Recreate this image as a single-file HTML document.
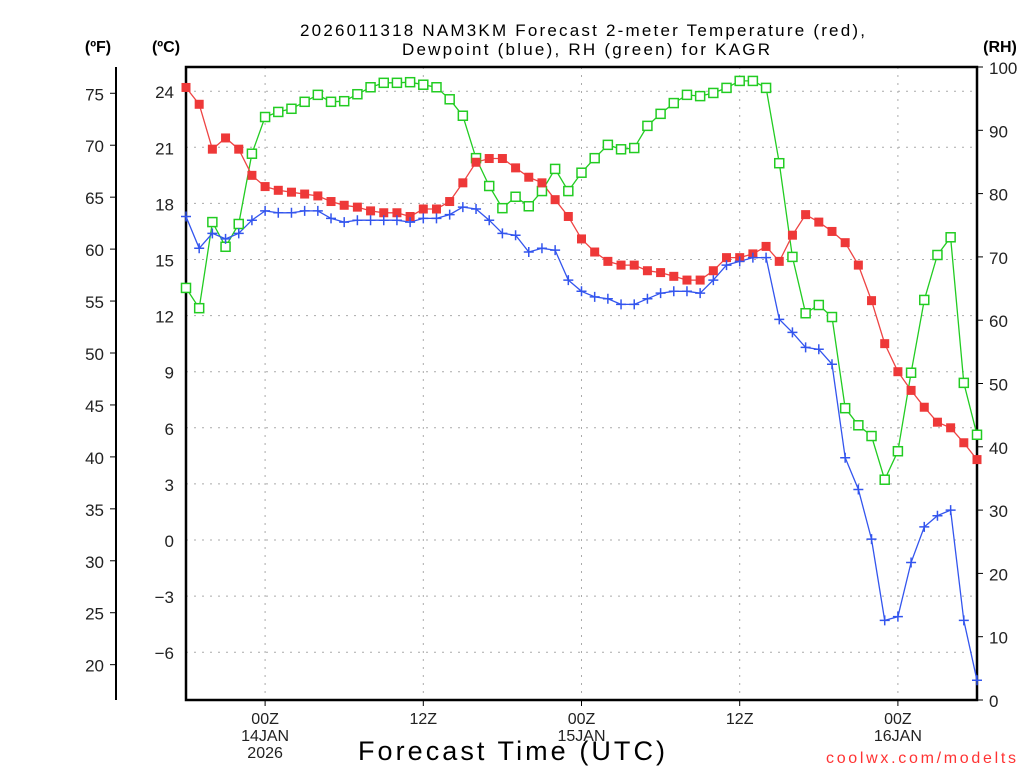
<!DOCTYPE html>
<html><head><meta charset="utf-8"><style>
body{margin:0;background:#fff;}
svg{display:block;font-family:"Liberation Sans",sans-serif;}
</style></head><body>
<svg id="chart" width="1024" height="768" viewBox="0 0 1024 768" xmlns="http://www.w3.org/2000/svg">
<rect width="1024" height="768" fill="#fff"/>
<text x="300" y="36" font-size="17" textLength="565" lengthAdjust="spacing">2026011318 NAM3KM Forecast 2-meter Temperature (red),</text>
<text x="402" y="55" font-size="17" textLength="368" lengthAdjust="spacing">Dewpoint (blue), RH (green) for KAGR</text>
<text x="98" y="52" text-anchor="middle" font-size="16" font-weight="bold">(ºF)</text>
<text x="166" y="52" text-anchor="middle" font-size="16" font-weight="bold">(ºC)</text>
<text x="1000" y="52" text-anchor="middle" font-size="16" font-weight="bold">(RH)</text>
<text x="358" y="760" font-size="27" textLength="307" lengthAdjust="spacing">Forecast Time (UTC)</text>
<text x="826" y="763" font-size="16" fill="#ff3333" textLength="190" lengthAdjust="spacing">coolwx.com/modelts</text>
<g id="grid"></g><g id="axes"></g><g id="series"></g>
</svg>
<script>
const hours = [];
for (let h = 0; h <= 60; h++) hours.push(h);
const tempC = [24.2,23.3,20.9,21.5,20.9,19.5,18.9,18.7,18.6,18.5,18.4,18.1,17.9,17.8,17.6,17.5,17.5,17.3,17.7,17.7,18.1,19.1,20.2,20.4,20.4,19.9,19.4,19.1,18.2,17.3,16.1,15.4,14.9,14.7,14.7,14.4,14.3,14.1,13.9,13.9,14.4,15.1,15.1,15.3,15.7,14.9,16.3,17.4,17.0,16.5,15.9,14.7,12.8,10.5,9.0,8.0,7.1,6.3,6.0,5.2,4.3];
const dewC = [17.3,15.6,16.4,16.1,16.4,17.1,17.6,17.5,17.5,17.6,17.6,17.2,17.0,17.1,17.1,17.1,17.1,17.0,17.2,17.2,17.4,17.8,17.7,17.1,16.4,16.3,15.4,15.6,15.5,13.9,13.3,13.0,12.9,12.6,12.6,12.9,13.2,13.3,13.3,13.2,13.9,14.7,14.9,15.1,15.1,11.8,11.1,10.3,10.2,9.4,4.4,2.7,0.05,-4.3,-4.1,-1.2,0.7,1.3,1.6,-4.3,-7.5];
const rh = [65.1,61.9,75.5,71.6,75.2,86.3,92.1,92.9,93.4,94.5,95.6,94.5,94.6,95.7,96.8,97.5,97.5,97.6,97.2,96.8,94.9,92.3,85.6,81.2,77.7,79.5,78.0,80.4,83.9,80.4,83.3,85.6,87.7,87.0,87.2,90.7,92.6,94.3,95.6,95.4,95.9,96.7,97.8,97.8,96.7,84.8,70.0,61.1,62.4,60.5,46.1,43.4,41.7,34.8,39.3,51.7,63.2,70.3,73.1,50.1,41.9];
const cTicks = [-6,-3,0,3,6,9,12,15,18,21,24];
const fTicks = [20,25,30,35,40,45,50,55,60,65,70,75];
const rhTicks = [0,10,20,30,40,50,60,70,80,90,100];
const timeTickHours = [6,18,30,42,54];
const timeTickLabels = [["00Z","14JAN","2026"],["12Z"],["00Z","15JAN"],["12Z"],["00Z","16JAN"]];

const L=186,R=977,T=67,B=700;
const xOf = h => L + (h/60)*(R-L);
const yC = c => 540 - c*18.7;
const yF = f => yC((f-32)*5/9);
const yRH = r => B - r*(B-T)/100;
const NS="http://www.w3.org/2000/svg";
function mk(tag, attrs, parent){const e=document.createElementNS(NS,tag);for(const k in attrs)e.setAttribute(k,attrs[k]);parent.appendChild(e);return e;}
const grid=document.getElementById('grid'), axes=document.getElementById('axes'), series=document.getElementById('series');

cTicks.forEach(c=>{
  const y=yC(c);
  const g=mk('line',{x1:L,x2:R,y1:y,y2:y,stroke:'#aaa','stroke-dasharray':'2,6'},grid);
  
  
  const t=mk('text',{x:174,y:y+7,'text-anchor':'end','font-size':'17',fill:'#222'},axes);
  t.textContent=(c<0?'\u2212'+(-c):c);
  
  
});
timeTickHours.forEach((h,i)=>{
  const x=xOf(h);
  const g=mk('line',{x1:x,x2:x,y1:T,y2:B,stroke:'#aaa','stroke-dasharray':'2,6'},grid);
  
  
  const tk=mk('line',{x1:x,x2:x,y1:B,y2:B+6,stroke:'#000'},axes);
  
  
  timeTickLabels[i].forEach((s,j)=>{
    const t=mk('text',{x:x,y:B+24+j*17,'text-anchor':'middle','font-size':'16',fill:'#222'},axes);
    t.textContent=s;
    
    
  });
});
const fl=mk('line',{x1:116,x2:116,y1:T,y2:B,stroke:'#000','stroke-width':2},axes);


fTicks.forEach(f=>{
  const y=yF(f);
  const tk=mk('line',{x1:110,x2:116,y1:y,y2:y,stroke:'#000'},axes);
  
  
  const t=mk('text',{x:104,y:y+7,'text-anchor':'end','font-size':'17',fill:'#222'},axes);
  t.textContent=f;
  
  
});
rhTicks.forEach(r=>{
  const y=yRH(r);
  const tk=mk('line',{x1:R,x2:R+6,y1:y,y2:y,stroke:'#000'},axes);
  
  
  const t=mk('text',{x:989,y:y+7,'text-anchor':'start','font-size':'17',fill:'#222'},axes);
  t.textContent=r;
  
  
});
const frame=mk('rect',{x:L,y:T,width:R-L,height:B-T,fill:'none',stroke:'#000','stroke-width':2.5},axes);



function line(vals, yf, color, name){
  const pts=vals.map((v,i)=>xOf(hours[i]).toFixed(1)+','+yf(v).toFixed(1)).join(' ');
  const p=mk('polyline',{points:pts,fill:'none',stroke:color,'stroke-width':1.3},series);
  
  
}
line(rh,yRH,'#22cc22','rh-line');
line(tempC,yC,'#ee4444','temperature-line');
line(dewC,yC,'#3355ee','dewpoint-line');
rh.forEach((v,i)=>{
  const m=mk('rect',{x:xOf(hours[i])-4.5,y:yRH(v)-4.5,width:9,height:9,fill:'#fff',stroke:'#22cc22','stroke-width':1.5},series);
  
  
});
tempC.forEach((v,i)=>{
  const m=mk('rect',{x:xOf(hours[i])-4.5,y:yC(v)-4.5,width:9,height:9,fill:'#ee3838'},series);
  
  
});
dewC.forEach((v,i)=>{
  const x=xOf(hours[i]),y=yC(v);
  const m=mk('path',{d:`M${x-5},${y}H${x+5}M${x},${y-5}V${y+5}`,stroke:'#3355ee','stroke-width':1.5},series);
  
  
});
</script>
</body></html>
